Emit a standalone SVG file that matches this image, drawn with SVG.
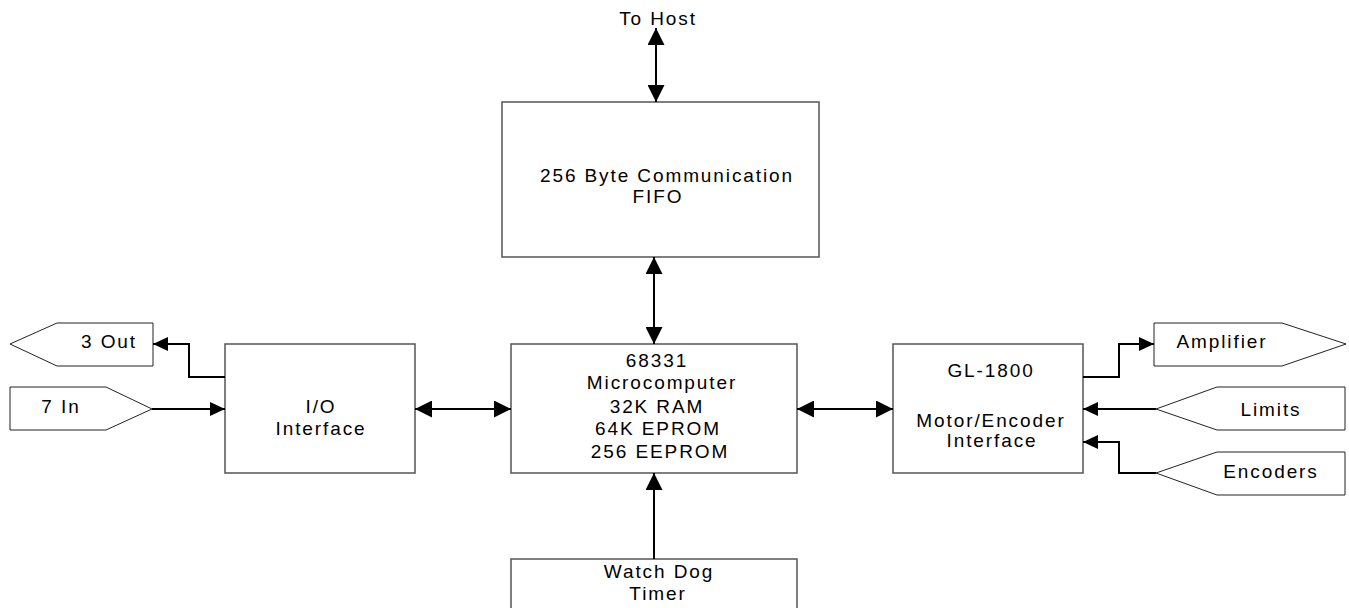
<svg xmlns="http://www.w3.org/2000/svg" width="1349" height="608" viewBox="0 0 1349 608">
  <style>
    .box { fill: #ffffff; stroke: #555555; stroke-width: 1.5; }
    .port { fill: #ffffff; stroke: #222222; stroke-width: 1; }
    .wire { fill: none; stroke: #000000; stroke-width: 2; }
    text { font-family: "Liberation Sans", Arial, sans-serif; font-size: 19px; letter-spacing: 1.9px; fill: #000000; text-anchor: middle; }
  </style>
  <defs>
    <marker id="head" markerUnits="userSpaceOnUse" markerWidth="17" markerHeight="17" refX="17" refY="8.5" orient="auto-start-reverse">
      <path d="M0,0 L17,8.5 L0,17 Z" fill="#000000"/>
    </marker>
    <marker id="headSmall" markerUnits="userSpaceOnUse" markerWidth="15" markerHeight="14" refX="15" refY="7" orient="auto-start-reverse">
      <path d="M0,0 L15,7 L0,14 Z" fill="#000000"/>
    </marker>
  </defs>

  <!-- host link label -->
  <g id="host">
    <text x="658" y="25">To Host</text>
  </g>

  <g id="fifo">
    <rect class="box" x="502" y="102" width="317" height="155"/>
    <text x="667" y="182">256 Byte Communication</text>
    <text x="658" y="203">FIFO</text>
  </g>

  <g id="cpu">
    <rect class="box" x="511" y="344" width="286" height="129"/>
    <text x="657" y="367">68331</text>
    <text x="662" y="389">Microcomputer</text>
    <text x="657" y="413">32K RAM</text>
    <text x="658" y="435">64K EPROM</text>
    <text x="660" y="458">256 EEPROM</text>
  </g>

  <g id="io">
    <rect class="box" x="225" y="344" width="190" height="129"/>
    <text x="321" y="413">I/O</text>
    <text x="321" y="435">Interface</text>
  </g>

  <g id="motor">
    <rect class="box" x="893" y="344" width="190" height="129"/>
    <text x="991" y="377">GL-1800</text>
    <text x="991" y="427">Motor/Encoder</text>
    <text x="992" y="447">Interface</text>
  </g>

  <g id="watchdog">
    <rect class="box" x="511" y="559" width="286" height="60"/>
    <text x="659" y="578">Watch Dog</text>
    <text x="658" y="600">Timer</text>
  </g>

  <!-- off-board signals -->
  <g id="out3">
    <polygon class="port" points="10,344 57,323 153,323 153,366 57,366"/>
    <text x="109" y="348">3 Out</text>
  </g>
  <g id="in7">
    <polygon class="port" points="10,387 106,387 152,409 106,430 10,430"/>
    <text x="61" y="413">7 In</text>
  </g>
  <g id="amplifier">
    <polygon class="port" points="1154,323 1282,323 1346,344 1282,366 1154,366"/>
    <text x="1222" y="348">Amplifier</text>
  </g>
  <g id="limits">
    <polygon class="port" points="1156,409 1217,387 1345,387 1345,430 1217,430"/>
    <text x="1271" y="416">Limits</text>
  </g>
  <g id="encoders">
    <polygon class="port" points="1156,473 1217,452 1345,452 1345,495 1217,495"/>
    <text x="1271" y="478">Encoders</text>
  </g>

  <g id="connectors">
    <line class="wire" x1="656" y1="28" x2="656" y2="102" marker-start="url(#head)" marker-end="url(#head)"/>
    <line class="wire" x1="654" y1="257" x2="654" y2="344" marker-start="url(#head)" marker-end="url(#head)"/>
    <line class="wire" x1="415" y1="409" x2="511" y2="409" marker-start="url(#head)" marker-end="url(#head)"/>
    <line class="wire" x1="797" y1="409" x2="893" y2="409" marker-start="url(#head)" marker-end="url(#head)"/>
    <line class="wire" x1="654" y1="559" x2="654" y2="473" marker-end="url(#head)"/>
    <path class="wire" d="M225,377 H189 V344 H153" marker-end="url(#headSmall)"/>
    <path class="wire" d="M152,409 H225" marker-end="url(#headSmall)"/>
    <path class="wire" d="M1083,377 H1119 V344 H1154" marker-end="url(#headSmall)"/>
    <path class="wire" d="M1156,409 H1083" marker-end="url(#headSmall)"/>
    <path class="wire" d="M1156,473 H1119 V442 H1083" marker-end="url(#headSmall)"/>
  </g>
</svg>
